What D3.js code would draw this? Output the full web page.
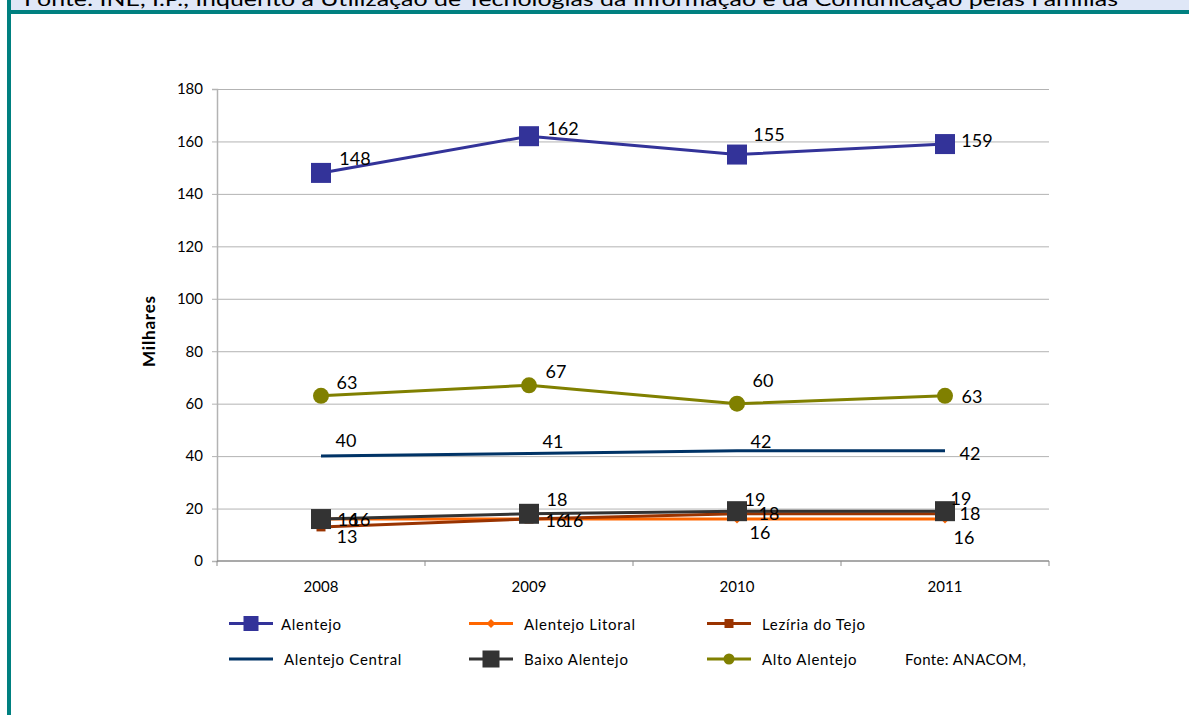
<!DOCTYPE html>
<html>
<head>
<meta charset="utf-8">
<script src="https://cdn.jsdelivr.net/npm/d3@7"></script>
<style>
  html, body { margin: 0; padding: 0; background: #fff; }
  svg { display: block; font-family: Lato, "Open Sans", sans-serif; }
</style>
</head>
<body>
<svg id="chart" width="1189" height="715"></svg>
<script>
// Categories and series (milhares)
const years = ["2008", "2009", "2010", "2011"];
const alentejo = [148, 162, 155, 159];
const alentejoLitoral = [16, 16, 16, 16];
const leziriaTejo = [13, 16, 18, 18];
const alentejoCentral = [40, 41, 42, 42];
const baixoAlentejo = [16, 18, 19, 19];
const altoAlentejo = [63, 67, 60, 63];
const yTicks = [0, 20, 40, 60, 80, 100, 120, 140, 160, 180];

const headerText = "Fonte: INE, I.P., Inquérito à Utilização de Tecnologias da Informação e da Comunicação pelas Famílias";
const sourceText = "Fonte: ANACOM,";

// Series styling, in drawing order
const series = [
  { name: "Alentejo", values: alentejo, color: "#333399", marker: "square", size: 20, legendSize: 15,
    labelOffsets: [[34, -15], [34, -8], [32, -21], [32, -4]] },
  { name: "Alentejo Litoral", values: alentejoLitoral, color: "#FF6600", marker: "diamond", size: 9, legendSize: 9,
    labelOffsets: [[27, 0], [27, 1], [23, 13], [19, 18]] },
  { name: "Lezíria do Tejo", values: leziriaTejo, color: "#993300", marker: "square", size: 9, legendSize: 9,
    labelOffsets: [[26, 9], [44, 1], [32, -1], [25, -1]] },
  { name: "Alentejo Central", values: alentejoCentral, color: "#003366", marker: "none", size: 0, legendSize: 0,
    labelOffsets: [[25, -16], [24, -12], [24, -10], [25, 2]] },
  { name: "Baixo Alentejo", values: baixoAlentejo, color: "#333333", marker: "square", size: 20, legendSize: 17,
    labelOffsets: [[39, 0], [28, -15], [18, -12], [16, -13]] },
  { name: "Alto Alentejo", values: altoAlentejo, color: "#808000", marker: "circle", size: 16, legendSize: 11,
    labelOffsets: [[26, -14], [27, -14], [26, -24], [27, 0]] }
];

// Legend grid: three columns, two rows
const legendCols = [229, 469, 707];
const legendRows = [623.5, 659];
const legendTextGap = [52, 55, 55];

const svg = d3.select("#chart");

// Header band and frame
svg.append("rect").attr("x", 11).attr("y", 0).attr("width", 1178).attr("height", 10).attr("fill", "#dfe7f7");
svg.append("text")
  .attr("x", 24).attr("y", 6)
  .attr("font-size", 20).attr("fill", "#000")
  .attr("textLength", 1094).attr("lengthAdjust", "spacingAndGlyphs")
  .text(headerText);
svg.append("rect").attr("x", 7).attr("y", 10).attr("width", 1182).attr("height", 4).attr("fill", "#008080");
svg.append("rect").attr("x", 7).attr("y", 0).attr("width", 4).attr("height", 715).attr("fill", "#008080");

// Plot area
const plotLeft = 217, plotRight = 1049, plotTop = 89, plotBottom = 561;

const x = d3.scaleBand().domain(years).range([plotLeft, plotRight]).paddingInner(0).paddingOuter(0);
const cx = d => x(d) + x.bandwidth() / 2;
const y = d3.scaleLinear().domain([0, 180]).range([plotBottom, plotTop]);

// Horizontal gridlines
svg.append("g")
  .attr("transform", `translate(${plotLeft},0)`)
  .call(d3.axisLeft(y).tickValues(yTicks.filter(t => t > 0)).tickSize(-(plotRight - plotLeft)).tickFormat(""))
  .call(g => g.select(".domain").remove())
  .call(g => g.selectAll("line").attr("stroke", "#b3b3b3").attr("stroke-width", 1));

// Y axis
svg.append("g")
  .attr("transform", `translate(${plotLeft},0)`)
  .call(d3.axisLeft(y).tickValues(yTicks).tickSize(5).tickPadding(9))
  .call(g => g.select(".domain").attr("stroke", "#b3b3b3").attr("stroke-width", 1.5))
  .call(g => g.selectAll("line").attr("stroke", "#b3b3b3"))
  .call(g => g.selectAll("text").attr("font-size", 15).attr("fill", "#000").attr("font-family", "Lato, sans-serif"));

// X axis: baseline, boundary ticks, centered labels
const xAxis = svg.append("g").attr("transform", `translate(0,${plotBottom})`);
xAxis.append("line").attr("x1", plotLeft).attr("x2", plotRight).attr("y1", 0).attr("y2", 0)
  .attr("stroke", "#8c8c8c").attr("stroke-width", 1.5);
const boundaries = years.map(d => x(d)).concat([plotRight]);
xAxis.selectAll("line.tick").data(boundaries).join("line")
  .attr("class", "tick")
  .attr("x1", d => d).attr("x2", d => d).attr("y1", 0).attr("y2", 5)
  .attr("stroke", "#8c8c8c");
xAxis.selectAll("text").data(years).join("text")
  .attr("x", d => cx(d)).attr("y", 25)
  .attr("text-anchor", "middle").attr("dominant-baseline", "central")
  .attr("font-size", 15).attr("fill", "#000")
  .text(d => d);

// Y axis title
svg.append("text")
  .attr("transform", `translate(148,331) rotate(-90)`)
  .attr("text-anchor", "middle").attr("dominant-baseline", "central")
  .attr("font-size", 17).attr("font-weight", "bold").attr("letter-spacing", 0.8).attr("fill", "#000")
  .text("Milhares");

// Marker drawing helper
function drawMarker(g, type, size, color, px, py) {
  if (type === "square") {
    g.append("rect").attr("x", px - size / 2).attr("y", py - size / 2)
      .attr("width", size).attr("height", size).attr("fill", color);
  } else if (type === "diamond") {
    const h = size / 2;
    g.append("path").attr("d", `M${px},${py - h}L${px + h},${py}L${px},${py + h}L${px - h},${py}Z`).attr("fill", color);
  } else if (type === "circle") {
    g.append("circle").attr("cx", px).attr("cy", py).attr("r", size / 2).attr("fill", color);
  }
}

// Series lines and markers
const line = d3.line().x((d, i) => cx(years[i])).y(d => y(d));
series.forEach(s => {
  const g = svg.append("g");
  g.append("path").datum(s.values).attr("d", line)
    .attr("fill", "none").attr("stroke", s.color).attr("stroke-width", 3)
    .attr("stroke-linejoin", "round");
  s.values.forEach((v, i) => drawMarker(g, s.marker, s.size, s.color, cx(years[i]), y(v)));
});

// Data labels
series.forEach(s => {
  svg.append("g").selectAll("text").data(s.values).join("text")
    .attr("x", (d, i) => cx(years[i]) + s.labelOffsets[i][0])
    .attr("y", (d, i) => y(d) + s.labelOffsets[i][1])
    .attr("text-anchor", "middle").attr("dominant-baseline", "central")
    .attr("font-size", 18).attr("fill", "#000")
    .text(d => d);
});

// Legend
series.forEach((s, i) => {
  const col = i % 3, row = Math.floor(i / 3);
  const lx = legendCols[col], ly = legendRows[row];
  const g = svg.append("g");
  g.append("line").attr("x1", lx).attr("x2", lx + 44).attr("y1", ly).attr("y2", ly)
    .attr("stroke", s.color).attr("stroke-width", 3);
  drawMarker(g, s.marker, s.legendSize, s.color, lx + 22, ly);
  g.append("text")
    .attr("x", lx + legendTextGap[col] + (s.marker === "none" ? 3 : 0)).attr("y", ly)
    .attr("dominant-baseline", "central")
    .attr("font-size", 15).attr("letter-spacing", 0.7).attr("fill", "#000")
    .text(s.name);
});
svg.append("text")
  .attr("x", 905).attr("y", legendRows[1])
  .attr("dominant-baseline", "central")
  .attr("font-size", 15).attr("letter-spacing", 0.4).attr("fill", "#000")
  .text(sourceText);
</script>
</body>
</html>
